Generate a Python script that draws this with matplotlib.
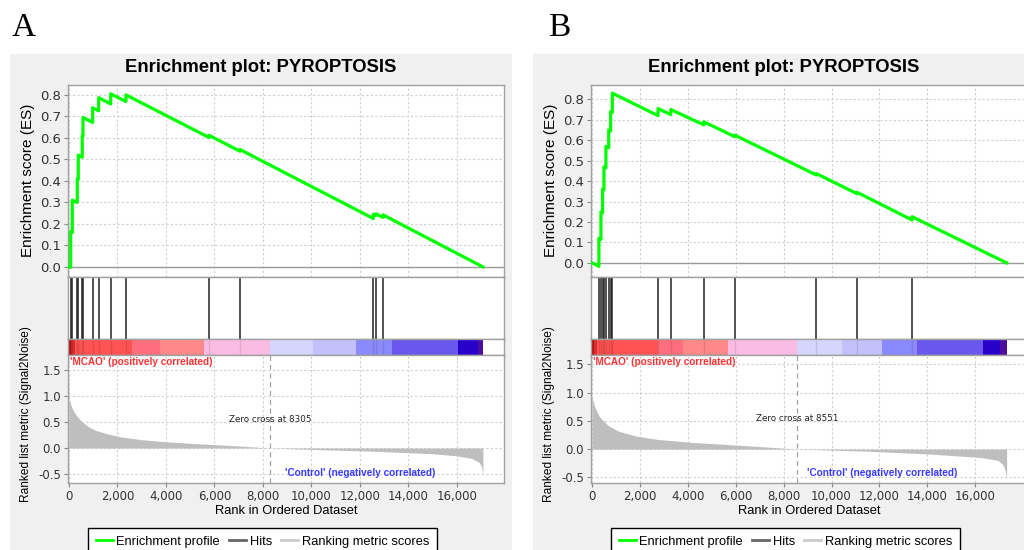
import matplotlib
matplotlib.use('Agg')
import matplotlib.pyplot as plt
from matplotlib.patches import Rectangle
from matplotlib.lines import Line2D

W, H = 1024, 550

xtick_vals = [0, 2000, 4000, 6000, 8000, 10000, 12000, 14000, 16000]
xtick_labels = [f'{v:,}' for v in xtick_vals]
es_ticks = [0.0, 0.1, 0.2, 0.3, 0.4, 0.5, 0.6, 0.7, 0.8]
metric_ticks = [-0.5, 0.0, 0.5, 1.0, 1.5]

bar_colors = ['#b40f0f', '#dc2d2d', '#ff5252', '#ff6e7c', '#ff8888', '#fbbce4',
              '#d6d6fc', '#c4c0fb', '#8a8afd', '#6a58ec', '#2800cc', '#4c0c9c']

# panel A
hits_a = [70, 136, 342, 384, 548, 577, 977, 1225, 1720, 2350, 5773, 7051, 12550, 12660, 12950]
es_rank_a = [0, 70, 70, 136, 136, 342, 342, 384, 384, 548, 548, 577, 577, 977, 977, 1225, 1225,
             1720, 1720, 2350, 2350, 5773, 5773, 7051, 7051, 12550, 12550, 12660, 12660,
             12950, 12950, 17070]
es_a = [0.0, -0.002, 0.165, 0.16, 0.31, 0.30, 0.41, 0.407, 0.52, 0.51, 0.61, 0.607, 0.695,
        0.672, 0.74, 0.726, 0.787, 0.758, 0.805, 0.769, 0.80, 0.602, 0.612, 0.538, 0.546,
        0.225, 0.245, 0.239, 0.247, 0.23, 0.242, 0.0]
metric_rank_a = [0, 30, 100, 200, 350, 550, 800, 1100, 1600, 2200, 3000, 4000, 5000, 6000,
                 7000, 8305, 9500, 11000, 12500, 14000, 15000, 16000, 16600, 16900, 17000,
                 17050, 17070]
metric_a = [1.02, 0.92, 0.80, 0.70, 0.60, 0.50, 0.41, 0.34, 0.27, 0.21, 0.16, 0.12, 0.09,
            0.065, 0.04, 0.0, -0.02, -0.04, -0.06, -0.09, -0.11, -0.15, -0.20, -0.27, -0.34,
            -0.45, -0.52]
bar_edges_a = [0, 100, 250, 2600, 3750, 5570, 8305, 10080, 11820, 13340, 16030, 16860, 17070]
zero_a = 8305

# panel B
hits_b = [290, 375, 445, 500, 583, 700, 780, 850, 2760, 3290, 4670, 5960, 9360, 11070, 13360]
es_rank_b = [0, 290, 290, 375, 375, 445, 445, 500, 500, 583, 583, 700, 700, 780, 780, 850, 850,
             2760, 2760, 3290, 3290, 4670, 4670, 5960, 5960, 9360, 9360, 11070, 11070,
             13360, 13360, 17310]
es_b = [0.0, -0.017, 0.12, 0.115, 0.25, 0.245, 0.36, 0.357, 0.47, 0.465, 0.57, 0.563, 0.65,
        0.645, 0.74, 0.736, 0.83, 0.72, 0.755, 0.725, 0.75, 0.675, 0.69, 0.617, 0.625,
        0.43, 0.437, 0.338, 0.345, 0.21, 0.226, 0.0]
metric_rank_b = [0, 30, 110, 320, 670, 1090, 1790, 2760, 4150, 5820, 7200, 8551, 11400,
                 14200, 16280, 16950, 17160, 17250, 17290, 17310]
metric_b = [0.98, 0.88, 0.75, 0.57, 0.42, 0.32, 0.235, 0.17, 0.12, 0.076, 0.04, 0.0, -0.035,
            -0.09, -0.15, -0.20, -0.28, -0.38, -0.48, -0.52]
bar_edges_b = [0, 100, 210, 2740, 3790, 5680, 8551, 10440, 12100, 13570, 16330, 17030, 17310]
zero_b = 8551


def fig_rect(x, y_top, w, h):
    # pixel box (top-left origin) -> figure fraction
    return [x / W, 1 - (y_top + h) / H, w / W, h / H]


def style_spines(ax):
    for s in ax.spines.values():
        s.set_color('#a0a0a0')
        s.set_linewidth(1)


def draw_panel(fig, px, bg_x, letter, letter_x, hits, es_rank, es_val, m_rank, m_val,
               edges, zero_cross, xlim, es_lim, m_lim, control_x):
    fig.patches.append(Rectangle((bg_x / W, 0), 502 / W, 1 - 54 / H, transform=fig.transFigure,
                                 facecolor='#f0f0f0', edgecolor='none', zorder=-5))
    fig.text(letter_x / W, 1 - 36 / H, letter, fontsize=24, family='Liberation Serif',
             ha='left', va='baseline')
    fig.text((bg_x + 251) / W, 1 - 67 / H, 'Enrichment plot: PYROPTOSIS', fontsize=13.3,
             fontweight='bold', family='Liberation Sans', ha='center', va='center')

    pw = 436
    # enrichment score
    ax1 = fig.add_axes(fig_rect(px, 85, pw, 192))
    ax1.plot(es_rank, es_val, color='#00ff00', lw=2.3, zorder=3)
    ax1.axhline(0, color='#9a9a9a', lw=1, zorder=2)
    ax1.set_xlim(*xlim)
    ax1.set_ylim(*es_lim)
    ax1.set_xticks(xtick_vals)
    ax1.set_yticks(es_ticks)
    ax1.set_yticklabels([f'{v:.1f}' for v in es_ticks])
    ax1.tick_params(axis='x', length=0, labelbottom=False)
    ax1.tick_params(axis='y', length=3, color='#888888', labelsize=9.5, labelcolor='#333333', pad=2)
    ax1.grid(True, color='#cfcfcf', ls=(0, (2, 2)), lw=0.8)
    ax1.set_ylabel('Enrichment score (ES)', fontsize=11, family='Liberation Sans')
    ax1.yaxis.set_label_coords(-0.076, 0.505)
    style_spines(ax1)

    # hits
    ax2 = fig.add_axes(fig_rect(px, 277, pw, 62))
    ax2.vlines(hits, 0, 1, color='#222222', lw=1.1)
    ax2.set_xlim(*xlim)
    ax2.set_ylim(0, 1)
    ax2.set_xticks([])
    ax2.set_yticks([])
    style_spines(ax2)

    # ranked list colour bar
    ax3 = fig.add_axes(fig_rect(px, 339, pw, 16))
    lefts = edges[:-1]
    widths = [b - a for a, b in zip(edges[:-1], edges[1:])]
    ax3.bar(lefts, 1, width=widths, align='edge', color=bar_colors, lw=0)
    ax3.vlines(hits, 0, 1, color='black', lw=1.0, alpha=0.1)
    ax3.set_xlim(*xlim)
    ax3.set_ylim(0, 1)
    ax3.set_xticks([])
    ax3.set_yticks([])
    style_spines(ax3)

    # ranked list metric
    ax4 = fig.add_axes(fig_rect(px, 355, pw, 128))
    ax4.fill_between(m_rank, 0, m_val, color='#bebebe', lw=0, zorder=2)
    ax4.axvline(zero_cross, color='#a0a0a0', lw=0.9, ls=(0, (4, 3)), zorder=3)
    ax4.text(zero_cross, 0.55, f'Zero cross at {zero_cross}', fontsize=6.3, ha='center',
             va='center', color='#222222')
    ax4.text(60, 0.945, "'MCAO' (positively correlated)", fontsize=7.2,
             color='#ff3333', fontweight='bold', family='Liberation Sans', ha='left',
             va='center', transform=ax4.get_xaxis_transform())
    ax4.text(control_x, 0.078, "'Control' (negatively correlated)", fontsize=7.2,
             color='#3a3aff', fontweight='bold', family='Liberation Sans', ha='center',
             va='center', transform=ax4.get_xaxis_transform())
    ax4.set_xlim(*xlim)
    ax4.set_ylim(*m_lim)
    ax4.set_xticks(xtick_vals)
    ax4.set_xticklabels(xtick_labels)
    ax4.set_yticks(metric_ticks)
    ax4.set_yticklabels([f'{v:.1f}' for v in metric_ticks])
    ax4.tick_params(length=3, color='#888888', labelsize=8.5, labelcolor='#333333', pad=2)
    ax4.grid(True, color='#cfcfcf', ls=(0, (2, 2)), lw=0.8)
    ax4.set_ylabel('Ranked list metric (Signal2Noise)', fontsize=8.6, family='Liberation Sans')
    ax4.yaxis.set_label_coords(-0.082, 0.54)
    ax4.set_xlabel('Rank in Ordered Dataset', fontsize=9.3, family='Liberation Sans')
    ax4.xaxis.set_label_coords(0.5, -0.17)
    style_spines(ax4)

    handles = [Line2D([], [], color='#00ff00', lw=2),
               Line2D([], [], color='#666666', lw=2),
               Line2D([], [], color='#cccccc', lw=2)]
    labels = ['Enrichment profile', 'Hits', 'Ranking metric scores']
    fig.legend(handles, labels, loc='upper left', bbox_to_anchor=((px + 20) / W, 1 - 528 / H),
               ncol=3, prop={'family': 'Liberation Sans', 'size': 9.3},
               handlelength=1.3, handletextpad=0.3, columnspacing=0.7, borderpad=0.6,
               borderaxespad=0, frameon=True, fancybox=False, edgecolor='black', framealpha=1)


fig = plt.figure(figsize=(W / 100, H / 100), dpi=100)
draw_panel(fig, 68, 10, 'A', 12, hits_a, es_rank_a, es_a, metric_rank_a, metric_a,
           bar_edges_a, zero_a, (-40, 17940), (-0.047, 0.846), (-0.673, 1.79), 12000)
draw_panel(fig, 591, 533, 'B', 548, hits_b, es_rank_b, es_b, metric_rank_b, metric_b,
           bar_edges_b, zero_b, (-40, 18160), (-0.069, 0.87), (-0.60, 1.665), 12100)
fig.savefig('out.png', dpi=100)
